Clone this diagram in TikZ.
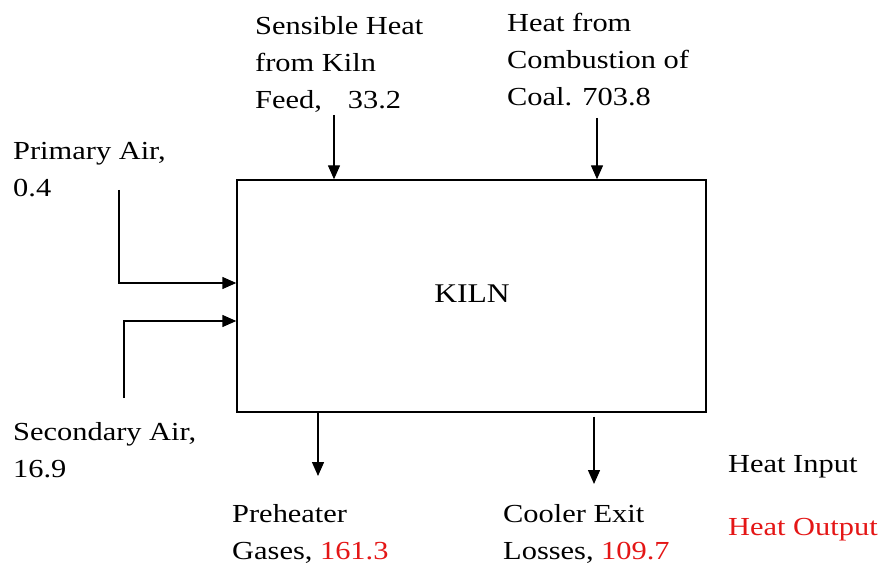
\documentclass[tikz,border=0pt]{standalone}
\usepackage{fontspec}
\setmainfont{Liberation Serif}[FakeStretch=1.17]
\usetikzlibrary{arrows.meta}
\definecolor{outred}{RGB}{228,22,22}
\begin{document}
\begin{tikzpicture}[x=1pt,y=-1pt,
  lbl/.style={anchor=base west,inner sep=0pt,font=\fontsize{26}{37}\selectfont},
  flow/.style={line width=1.4pt,-{Triangle[length=14pt,width=12pt]}},
  kilnbox/.style={draw,line width=1.4pt,minimum width=469pt,minimum height=232pt,inner sep=0pt,font=\fontsize{27}{32}\selectfont}]
\useasboundingbox (0,0) rectangle (888,572);
\newcommand{\lines}[1]{\renewcommand{\arraystretch}{1}\begin{tabular}[t]{@{}l@{}}#1\end{tabular}}
\node[kilnbox] (kiln) at (471.5,296) {};
\node[font=\fontsize{27}{32}\selectfont,anchor=base,inner sep=0pt] (kilnlbl) at (472,302) {KILN};

\node[lbl] (feed) at (255,35) {\lines{Sensible Heat\\from Kiln\\Feed,\hspace{26pt}33.2}};
\node[lbl] (coal) at (507,32) {\lines{Heat from\\Combustion of\\Coal. 703.8}};
\node[lbl] (prim) at (13,160) {\lines{Primary Air,\\0.4}};
\node[lbl] (sec) at (13,440) {\lines{Secondary Air,\\16.9}};
\node[lbl] (pre) at (232,522) {\lines{Preheater\\Gases, \textcolor{outred}{161.3}}};
\node[lbl] (cool) at (503,522) {\lines{Cooler Exit\\Losses, \textcolor{outred}{109.7}}};
\node[lbl] (hin) at (728,472) {Heat Input};
\node[lbl,text=outred] (hout) at (728,535) {Heat Output};

\coordinate (feedtop) at (334,115);
\coordinate (coaltop) at (597,118);
\coordinate (primstart) at (119,190);
\coordinate (secstart) at (124,398);
\coordinate (preend) at (318,476);
\coordinate (coolend) at (594,484);

\draw[flow] (feedtop) -- (feedtop |- kiln.north);
\draw[flow] (coaltop) -- (coaltop |- kiln.north);
\draw[flow] (primstart) |- (kiln.west |- {(0,283)});
\draw[flow] (secstart) |- (kiln.west |- {(0,321)});
\draw[flow] (preend |- kiln.south) -- (preend);
\draw[flow] ([yshift=-4pt]coolend |- kiln.south) -- (coolend);
\end{tikzpicture}
\end{document}
